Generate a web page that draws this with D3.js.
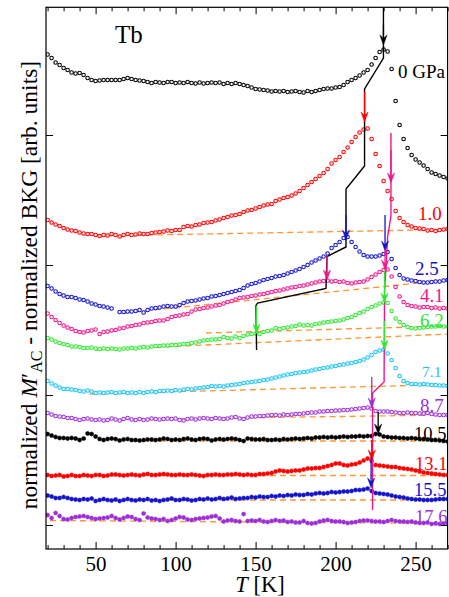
<!DOCTYPE html>
<html>
<head>
<meta charset="utf-8">
<script src="https://cdn.jsdelivr.net/npm/d3@7"></script>
<style>
  html, body { margin: 0; padding: 0; background: #fff; }
  svg { display: block; font-family: "Liberation Serif", "Times New Roman", serif; }
</style>
</head>
<body>
<svg id="chart" width="449" height="597"></svg>
<script>
// Measurement temperatures (K), shared by every pressure run
const temps = [20,22.5,25,27.5,30,32.5,35,37.5,40,42.5,45,47.5,50,52.5,55,57.5,60,62.5,65,67.5,
  70,72.5,75,77.5,80,82.5,85,87.5,90,92.5,95,97.5,100,102.5,105,107.5,110,112.5,115,117.5,
  120,122.5,125,127.5,130,132.5,135,137.5,140,142.5,145,147.5,150,152.5,155,157.5,160,162.5,165,167.5,
  170,172.5,175,177.5,180,182.5,185,187.5,190,192.5,195,197.5,200,202.5,205,207.5,210,212.5,215,217.5,
  220,222.5,225,227.5,230,232.5,235,237.5,240,242.5,245,247.5,250,252.5,255,257.5,260,262.5,265,267.5,270];

const pressureLabels = ["0 GPa","1.0","2.5","4.1","6.2","7.1","8.7","10.5","13.1","15.5","17.6"];

// normalized M'_AC minus background, vertically offset per pressure (arb. units)
const p00 = [470.5,467,462.5,460,457,455,452.5,451.5,452,450,
  447,445,444,444.5,445,445,445,445,445,446,
  447,446,445,444.5,444,443,442,443,442.5,442,
  443,443,442,442.5,442,443,442,441.5,442.5,441.5,
  442,442.5,442,442.5,441,442,441,442,441,440,
  439,437.5,436,435.5,435,434.5,433.5,434,433.5,434,
  433,433.5,434,433,432.5,434,433,434,435,436,
  436.5,436.5,437.5,438,440,443,445,447,449.5,452.5,
  455,460.5,467,473,475.5,473.5,456,424,400,386,
  377,370,365.5,362.5,359.5,356,352.5,351,349.5,348,346.5];
const p10 = [305,302.5,300.5,299,297,295.5,294.5,294,292.5,291.5,
  291,291,290,289,290,289.5,291,290,288.5,290,
  291,290,290.5,291.5,291,291,292,292.5,293,293.5,
  294.5,294,295,295,298,299,298.5,300,300.5,302,
  302.5,303,304.5,305.5,307,308,309.5,310,311,313,
  314.5,315,316.5,318,319.5,320.5,321,324,325.5,327,
  328,329.5,331.5,334,337,340,343,346,349,352,
  356,361.5,365,368,373,377.5,383,388,392.5,395.5,
  396.5,386,371,359,344,334,326,314,307,303,
  300,298.5,297,296.5,296,294.5,295,294,295,295.5,296];
const p25 = [239,236.5,233.5,231,229.5,228,228,227,225.5,225,
  223.5,221.5,220.5,219,218.5,217.5,216.5,null,213,213,
  213.5,213.5,214,215,212.5,215,216.5,217,217.5,218.5,
  219,218.5,218.5,220,222,223.5,224,224.5,225.5,226.5,
  227,228.5,229,230,231,232,233,234,235,237,
  239.5,241,242,243.5,245,246,247,248.5,249,250,
  251.5,253,254.5,256,258,260,262.5,264.5,266.5,268.5,
  271.5,277,280,283,287,288,283,278,273.5,270,
  268.5,268.5,268.5,269.5,271,273,266,257,250,246.5,
  245.5,244.5,244,243,242.5,242.5,243,243.5,243.5,244.5,245];
const p41 = [211.5,208,205,202,199.5,197.5,196,194,193,192.5,
  194,194.5,195.5,191,193,193.5,194.5,195,196.5,197,
  198.5,199,200,200.5,202,202.5,203,204,204.5,204.5,
  206,208,209,209.5,210.5,211,213.5,215.5,216,217,
  217.5,218.5,219.5,220,221.5,223,224,225.5,227,227.5,
  228,229,229.5,230.5,231,232,233,234,234.5,235.5,
  236.5,237.5,238,239,239.5,240.5,241.5,242.5,243.5,244,
  244.5,243.5,244,243,243.5,242,241.5,242.5,243,243.5,
  245.5,248,250.5,253,255,255.5,248.5,238,228.5,223,
  220,219,218.5,217.5,218,218,217,217.5,216.5,217,216.5];
const p62 = [187,185.5,183.5,182,181,180,178.5,178.5,178,177,
  177,177.5,176.5,176,176.5,176,176.5,176,175.5,176.5,
  176.5,177,176.5,177.5,178,177.5,178.5,179,179,179.5,
  179.5,180,180,180.5,181,181,182,182.5,183.5,184.5,
  185,185.5,185.5,186,188,187,186.5,188.5,187,189,
  190.5,191,191.5,191,193,194,194.5,197,196,197,
  197.5,198.5,199,200.5,199.5,200,199.5,201,201.5,202.5,
  203,203.5,204,204.5,205.5,207,208,210,212,213.5,
  216,218,219.5,221.5,222.5,222,214,206.5,203,200,
  198,197,196.5,197,197.5,198,198.5,198.5,199,198.5,198.5];
const p71 = [144,141.5,139.5,137.5,136,136,135.5,135,134,133.5,
  134.5,133.5,132,132.5,132,132.5,133,132,132.5,133,
  132,132.5,132,133,132,133,133.5,133,134,134,
  134.5,134,135,134.5,135.5,136,135.5,136.5,137,137.5,
  138,139,138.5,139,138.5,139.5,140,140.5,141,142,
  142.5,143,143.5,144,145,145.5,146.5,147.5,148.5,149.5,
  150.5,151,152,152.5,153,153.5,154.5,155.5,156,157,
  157.5,158.5,159,160,160.5,161.5,162,163,164,165.5,
  167.5,170,173,174.5,175.5,171.5,165,157,149,144,
  142,141,141,140.5,141,140.5,140,140,139.5,139.5,139];
const p87 = [112,110.5,109,108.5,108,107,107,106,105,106,
  106.5,105.5,105,105.5,104.5,105,106.5,105.5,104.5,106,
  107,105.5,105,106,105,105.5,106.5,106,105.5,106,
  106.5,106,106.5,105,104.5,106,106.5,105.5,106.5,107,
  106.5,106,107,106.5,106,106.5,107.5,108,106.5,106,
  107.5,108.5,108.5,109,109,109.5,110,110,109.5,110.5,
  110,110.5,111,111,111.5,112,112.5,112.5,113.5,113.5,
  114,114,114.5,114.5,115,115,115.5,116,116.5,117,
  117.5,116.5,114,113.5,113.5,113.5,113,112.5,112,112,
  112.5,112,112,111.5,111.5,112,111,110.5,110,110,110];
const p105 = [91,89.5,88,87,87,86.5,87,86.5,85,86.5,
  91.5,91,88.5,86,85,86,86.5,86,84.5,85.5,
  86,85,85,84.5,85,85.5,85.5,85,85.5,86.5,
  86,85,85.5,85,86,86.5,85.5,85,86,86.5,
  86,84.5,85.5,86,85.5,86,86.5,86,85,84,
  86.5,86,85.5,85.5,86,85,85,85.5,85,86,
  85.5,86,86.5,86,86.5,87,86.5,87.5,87.5,88,
  87.5,88,87.5,88,88.5,88,88.5,88.5,89,88.5,
  89,89,91,90.5,88.5,88,87.5,87.5,87,87,
  86.5,87,86.5,86,86,85.5,85,85,84.5,84,83.5];
const p131 = [50,49,49.5,50,48.5,49,50,49,49,50,
  49.5,49,50,50,49,49.5,50.5,50.5,50,49.5,
  50,50.5,50,49.5,50.5,51,50,50,50.5,51,
  50.5,50,50,50.5,50,50,50.5,50,49.5,49,
  50,50,50.5,50,50,50.5,50.5,51,50.5,50,
  50.5,50,50,51,51,51.5,52,53.5,54.5,54,
  53.5,54,54.5,54.5,55.5,56.5,56.5,57,57,58,
  59,60,61.5,61.5,60,59.5,60.5,61,62.5,64.5,
  66.5,64,60,59.5,59,58.5,58,58,57,56.5,
  56,55.5,54.5,53.5,52.5,52,51.5,51,50.5,50,50];
const p155 = [29.5,28.5,27,27,28,27,26,25.5,25,26,
  25.5,26.5,24,25,26,25,24.5,25.5,24,25,
  26,25,24.5,25.5,25,26,24.5,25,24,25,
  25.5,26.5,25,25,26,25.5,24.5,25,26,25.5,
  26.5,25.5,26,27,26,26.5,27.5,26,26.5,27,
  27,28,27.5,28.5,28,28,29,28.5,29.5,29,
  30,29.5,30.5,30,30,31,30.5,31.5,32,31.5,
  32,33,32.5,33,33.5,33.5,34,35,35,35.5,
  36.5,34,32,31.5,31,30.5,29.5,28.5,28,27.5,
  26.5,26,25.5,25.5,25,25,25,25.5,26,26,26];
const p176 = [10,7,12,9,6,5.5,7,8,8.5,9,
  8,7,6,6.5,7,7.5,9,7,5.5,7,
  8.5,8,6,5,11.5,7.5,6.5,6,5,6,
  4,5,6.5,8,7.5,5.5,5,6,6.5,7,
  7.5,8.5,9,6.5,3.5,4.5,5,4,3.5,11,
  4,4.5,4,5,3.5,3,4,5,4,4.5,
  3,3.5,2.5,2.5,4,2,1.5,2,3.5,4.5,
  5,4,3.5,3.5,3,2,2.5,3,4,4.5,
  4.5,4,3.5,3.5,3,4,5,4,3.5,3.5,
  3,3.5,2.5,2,2,2.5,1,1.5,1,1.5,2];

// Background lines: [T start, level, T end, level]
const bkgLines = [
  [51, 289, 270, 295.5],
  [68, 212, 270, 245],
  [119, 192, 270, 199],
  [50, 175, 270, 191],
  [46.5, 131, 270, 140.5],
  [65, 105.5, 270, 110],
  [71.5, 84, 270, 84],
  [21.5, 49.5, 270, 49.5],
  [52.75, 25, 270, 25],
  [21.5, 4.5, 270, 1.5]
];

// Transition tracks: [T, level]
const lowerTrack = [[229.9,517.7],[229.9,467],[218.1,436],[218.1,359],[206.5,336],[206.5,278],
  [194.6,268.5],[194,236.5],[151.2,222],[150.25,219.5],[150.6,175]];
const upperTrack = [[234.6,392],[234.6,309],[232.5,288],[231.5,258],[230.6,235],[230.3,143],
  [223.1,132],[223.1,15]];

// Transition arrows: [T, level at tail, level at tip]
const arrowData = [
  [229.9,500,480],[218.1,433,403],[234.6,375,342],[206.5,310,285],[230.9,310,274],
  [194.6,270,245],[230.9,275,255],[150.6,219,191],[230.6,254,222],[230.6,204,175],
  [222.6,148,117],[226.6,113,91],[222.6,85,65],[222.2,68,37]
];

const xTicks = [50,100,150,200,250];
const xMinorTicks = [20,30,40,60,70,80,90,110,120,130,140,160,170,180,190,210,220,230,240,260,270];
const yTicks = [0,130,260,390];

// ---- styling ----
const C = {
  black: "#000000", red: "#ff0000", blue: "#1414c8", pink: "#f2168a",
  green: "#36e336", cyan: "#1ec0f2", purple: "#9b30d6", orange: "#ff9630", magenta: "#f0148c"
};
const seriesData = [p00,p10,p25,p41,p62,p71,p87,p105,p131,p155,p176];
const seriesColor = [C.black,C.red,C.blue,C.pink,C.green,C.cyan,C.purple,C.black,C.red,C.blue,C.purple];
const seriesOpen = [true,true,true,true,true,true,true,false,false,false,false];
const arrowColor = [C.black,C.red,C.magenta,C.blue,C.blue,C.pink,C.pink,C.green,C.green,C.green,
  C.purple,C.black,C.red,C.blue];
// label placement: [left x, baseline y, font size]
const labelPlace = [[398,78,19],[418,220,19],[415,275,19],[420,302,19],[420,327,19],[422,377,15.5],
  [420,412,19],[414,440,18.5],[415,470,18.5],[414,496,18.5],[415,523,18.5]];

const svg = d3.select("#chart");
const L = 46, R = 447.6, T = 7.3, B = 549;
const x = d3.scaleLinear().domain([19, 270]).range([L, R]);
const y = d3.scaleLinear().domain([-24, 517.7]).range([B, T]);

const plot = svg.append("g");
svg.append("clipPath").attr("id", "clip").append("rect")
  .attr("x", L).attr("y", T).attr("width", R - L).attr("height", B - T);
plot.attr("clip-path", "url(#clip)");

// background lines
plot.selectAll("line.bkg").data(bkgLines).join("line")
  .attr("class", "bkg")
  .attr("x1", d => x(d[0])).attr("y1", d => y(d[1]))
  .attr("x2", d => x(d[2])).attr("y2", d => y(d[3]))
  .attr("stroke", C.orange).attr("stroke-width", 1.3)
  .attr("stroke-dasharray", "6,4");

// data points
seriesData.forEach((vals, si) => {
  const pts = temps.map((t, i) => [t, vals[i]]).filter(d => d[1] != null);
  const g = plot.append("g");
  g.selectAll("circle").data(pts).join("circle")
    .attr("cx", d => x(d[0])).attr("cy", d => y(d[1]))
    .attr("r", seriesOpen[si] ? 1.75 : 2.0)
    .attr("fill", seriesOpen[si] ? "#ffffff" : seriesColor[si])
    .attr("stroke", seriesColor[si])
    .attr("stroke-width", seriesOpen[si] ? 1.1 : 0.6);
});

// transition tracks
const line = d3.line().x(d => x(d[0])).y(d => y(d[1]));
plot.append("path").datum(lowerTrack).attr("d", line)
  .attr("fill", "none").attr("stroke", C.black).attr("stroke-width", 1.4);
plot.append("path").datum(upperTrack).attr("d", line)
  .attr("fill", "none").attr("stroke", C.magenta).attr("stroke-width", 1.4);

// arrows
arrowData.forEach((a, i) => {
  const ax = x(a[0]), y0 = y(a[1]), y1 = y(a[2]);
  const col = arrowColor[i];
  plot.append("line").attr("x1", ax).attr("x2", ax).attr("y1", y0).attr("y2", y1 - 5)
    .attr("stroke", col).attr("stroke-width", 1.3);
  plot.append("path")
    .attr("d", `M${ax},${y1} L${ax - 3.6},${y1 - 10} L${ax},${y1 - 6.5} L${ax + 3.6},${y1 - 10} Z`)
    .attr("fill", col).attr("stroke", col).attr("stroke-width", 0.5);
});

// pressure labels
pressureLabels.forEach((txt, i) => {
  const p = labelPlace[i];
  svg.append("text").attr("x", p[0]).attr("y", p[1])
    .attr("font-size", p[2]).attr("fill", seriesColor[i]).text(txt);
});

// sample name
svg.append("text").attr("x", 115).attr("y", 43).attr("font-size", 25).text("Tb");

// axes
const axG = svg.append("g");
axG.append("g").attr("transform", `translate(0,${B})`)
  .call(d3.axisBottom(x).tickValues(xTicks).tickSize(-7).tickPadding(7).tickFormat(d3.format("d")))
  .call(g => g.select(".domain").remove())
  .call(g => g.selectAll("text").attr("font-size", 21).attr("font-family", "Liberation Serif, serif").attr("fill", "#000"));
axG.append("g").attr("transform", `translate(0,${B})`)
  .call(d3.axisBottom(x).tickValues(xMinorTicks).tickSize(-4).tickFormat(""))
  .call(g => g.select(".domain").remove());
axG.append("g").attr("transform", `translate(0,${T})`)
  .call(d3.axisTop(x).tickValues(xTicks).tickSize(-7).tickFormat(""))
  .call(g => g.select(".domain").remove());
axG.append("g").attr("transform", `translate(0,${T})`)
  .call(d3.axisTop(x).tickValues(xMinorTicks).tickSize(-4).tickFormat(""))
  .call(g => g.select(".domain").remove());
axG.append("g").attr("transform", `translate(${L},0)`)
  .call(d3.axisLeft(y).tickValues(yTicks).tickSize(-7).tickFormat(""))
  .call(g => g.select(".domain").remove());
axG.append("g").attr("transform", `translate(${R},0)`)
  .call(d3.axisRight(y).tickValues(yTicks).tickSize(-7).tickFormat(""))
  .call(g => g.select(".domain").remove());
axG.selectAll(".tick line").attr("stroke", "#000").attr("stroke-width", 1);

svg.append("rect").attr("x", L).attr("y", T).attr("width", R - L).attr("height", B - T)
  .attr("fill", "none").attr("stroke", "#000").attr("stroke-width", 1.2);

// axis titles
const xt = svg.append("text").attr("x", 260).attr("y", 592).attr("text-anchor", "middle")
  .attr("font-size", 22.5);
xt.append("tspan").attr("font-style", "italic").text("T");
xt.append("tspan").text(" [K]");

const yt = svg.append("text").attr("transform", "translate(37,285) rotate(-90)")
  .attr("text-anchor", "middle").attr("font-size", 23.5);
yt.append("tspan").text("normalized ");
yt.append("tspan").attr("font-style", "italic").text("M");
yt.append("tspan").text("\u2032");
yt.append("tspan").attr("font-size", 16).attr("dy", 5).text("AC");
yt.append("tspan").attr("dy", -5).text(" - normalized BKG [arb. units]");
</script>
</body>
</html>
